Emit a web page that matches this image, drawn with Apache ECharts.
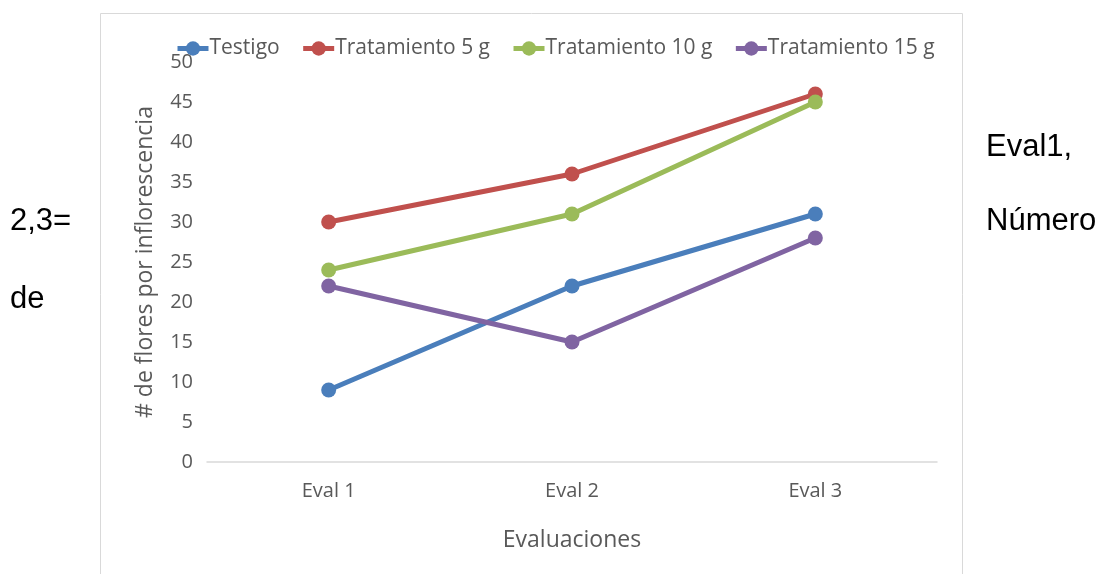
<!DOCTYPE html>
<html>
<head>
<meta charset="utf-8">
<script src="https://cdn.jsdelivr.net/npm/echarts@6/dist/echarts.min.js"></script>
<style>
html,body{margin:0;padding:0;background:#fff;}
#chart{width:1101px;height:574px;}
</style>
</head>
<body>
<div id="chart"></div>
<script>
// Categories and series values
const categories = ['Eval 1', 'Eval 2', 'Eval 3'];
const testigo = [9, 22, 31];
const trat5 = [30, 36, 46];
const trat10 = [24, 31, 45];
const trat15 = [22, 15, 28];
const seriesNames = ['Testigo', 'Tratamiento 5 g', 'Tratamiento 10 g', 'Tratamiento 15 g'];
const colors = ['#4a7ebb', '#c0504d', '#9bbb59', '#8064a2'];
const yTicks = [0, 5, 10, 15, 20, 25, 30, 35, 40, 45, 50];

const font = 'Open Sans, Lato, sans-serif';
const bodyFont = '31px Liberation Sans, Arial, sans-serif';
const chart = echarts.init(document.getElementById('chart'));

const mk = (name, data, color) => ({
  name: name,
  type: 'line',
  data: data,
  symbol: 'circle',
  symbolSize: 15,
  lineStyle: { width: 5, color: color },
  itemStyle: { color: color },
  emphasis: { disabled: true },
  z: 3
});

// surrounding paragraph text beside the chart frame
const sideText = (x, y, text) => ({
  type: 'text', x: x, y: y,
  style: { text: text, font: bodyFont, fill: '#000', verticalAlign: 'middle' }
});

chart.setOption({
  animation: false,
  color: colors,
  graphic: [
    { type: 'rect', shape: { x: 100.5, y: 13.5, width: 862, height: 600 },
      style: { fill: 'none', stroke: '#d9d9d9', lineWidth: 1 }, z: -1 },
    sideText(10, 221, '2,3='),
    sideText(10, 299, 'de'),
    sideText(986, 147, 'Eval1,'),
    sideText(986, 221, 'Número')
  ],
  legend: {
    data: seriesNames,
    left: 170,
    top: 33,
    itemWidth: 31,
    itemHeight: 18,
    itemGap: 21,
    lineStyle: { width: 5 },
    textStyle: { color: '#595959', fontSize: 21, fontFamily: font, padding: [0, 0, 0, -4] }
  },
  grid: { left: 207, right: 164, top: 62, bottom: 112, containLabel: false },
  xAxis: {
    type: 'category',
    data: categories,
    boundaryGap: true,
    axisLine: { lineStyle: { color: '#d9d9d9', width: 1.5 } },
    axisTick: { show: false },
    axisLabel: { color: '#595959', fontSize: 20, fontFamily: font, margin: 19 },
    name: 'Evaluaciones',
    nameLocation: 'middle',
    nameGap: 67,
    nameTextStyle: { color: '#595959', fontSize: 23, fontFamily: font }
  },
  yAxis: {
    type: 'value',
    min: 0,
    max: 50,
    interval: 5,
    axisLine: { show: false },
    axisTick: { show: false },
    splitLine: { show: false },
    axisLabel: {
      color: '#595959', fontSize: 20, fontFamily: font, margin: 14,
      formatter: v => yTicks.includes(v) ? String(v) : ''
    },
    name: '# de flores por inflorescencia',
    nameLocation: 'middle',
    nameGap: 50,
    nameRotate: 90,
    nameTextStyle: { color: '#595959', fontSize: 23, fontFamily: font }
  },
  series: [
    mk(seriesNames[0], testigo, colors[0]),
    mk(seriesNames[1], trat5, colors[1]),
    mk(seriesNames[2], trat10, colors[2]),
    mk(seriesNames[3], trat15, colors[3])
  ]
});
</script>
</body>
</html>
